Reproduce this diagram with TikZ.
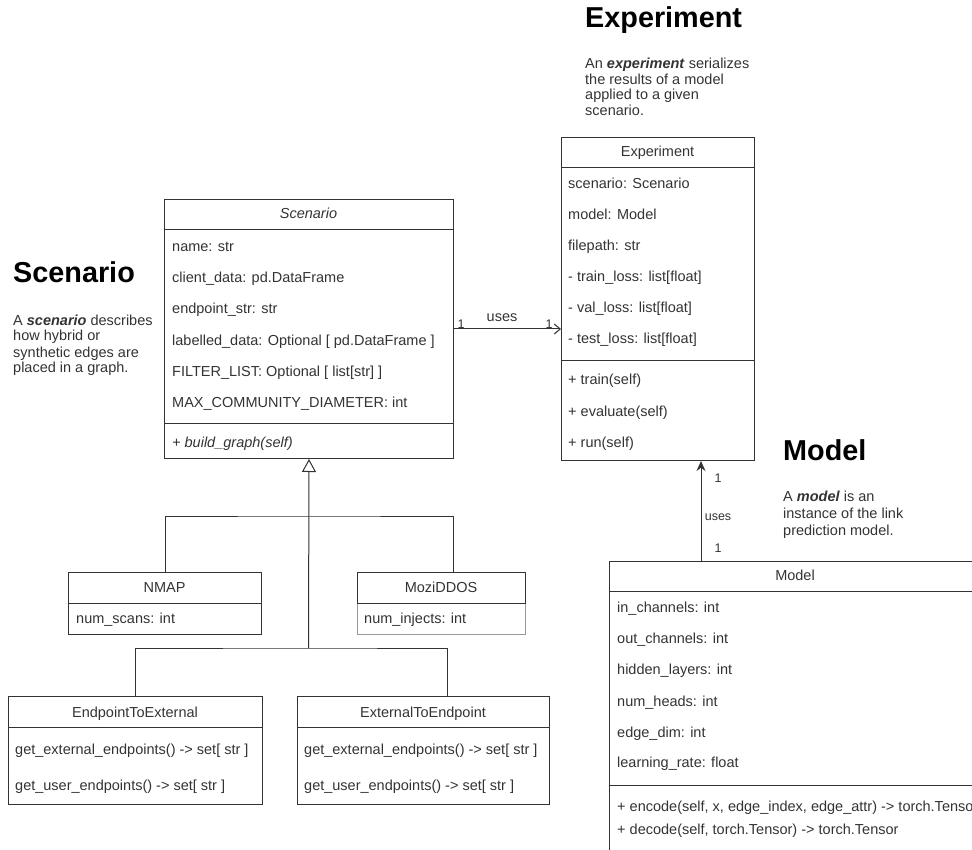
\documentclass[tikz,border=0pt]{standalone}
\usepackage{fontspec}
\setmainfont{Liberation Sans}
\usepackage{xcolor}
\usepackage{tikz}
\usetikzlibrary{arrows.meta}

\begin{document}
\begin{tikzpicture}[x=1pt, y=-1pt,
    font=\fontsize{14.5}{16}\selectfont,
    every node/.style={text=black!80},
    classbox/.style={draw=black!80, line width=1pt, anchor=north west, inner sep=0pt},
    row/.style={anchor=west, inner sep=0pt, text height=10pt, text depth=2pt},
    title/.style={inner sep=0pt, text height=10pt, text depth=2pt},
    heading/.style={anchor=west, inner sep=0pt, text height=20pt, text depth=0pt,
        font=\fontsize{28.8}{32}\selectfont\bfseries, text=black},
    wire/.style={draw=black!80, line width=1pt},
    uses/.style={wire, -{Straight Barb[length=6pt,width=10pt]}},
    usesup/.style={wire, -{Stealth[length=10pt,width=9pt]}},
    inherit/.style={wire, -{Triangle[open,length=13pt,width=14pt,fill=white]}},
    mult/.style={inner sep=0pt, font=\fontsize{12.5}{14}\selectfont}]
    \useasboundingbox (0,0) rectangle (972,850);
    \clip (0,0) rectangle (972,850);

    \node[heading] (scenhead) at (13,273) {Scenario};
    \foreach \y/\t [count=\k] in {322/{A \textbf{\textit{scenario}} describes}, 337/{how hybrid or}, 353/{synthetic edges are}, 369/{placed in a graph.}}
        \node[row] (scentext\k) at (13,\y) {\t};

    \node[classbox, minimum width=289pt, minimum height=259pt] (scen) at (164,199) {};
    \draw[wire] (scen.north west) ++(0,31) -- ++(289,0);
    \draw[wire] (scen.north west) ++(0,224) -- ++(289,0);
    \node[title, font=\fontsize{14.5}{16}\selectfont\itshape] (scenname) at (308.5,215) {Scenario};
    \foreach \y/\t [count=\k] in {248/{name: str}, 279/{client\_data: pd.DataFrame}, 310/{endpoint\_str: str}, 341/{labelled\_data: Optional [ pd.DataFrame ]}, 372/{FILTER\_LIST: Optional [ list[str] ]}, 403/{MAX\_COMMUNITY\_DIAMETER: int}}
        \node[row] (scenattr\k) at (172,\y) {\t};
    \node[row, font=\fontsize{14.5}{16}\selectfont\itshape] (scenop) at (172,443) {+ build\_graph(self)};

    \node[heading] (exphead) at (585,18) {Experiment};
    \foreach \y/\t [count=\k] in {65/{An \textbf{\textit{experiment}} serializes}, 81/{the results of a model}, 96/{applied to a given}, 112/{scenario.}}
        \node[row] (exptext\k) at (585,\y) {\t};

    \node[classbox, minimum width=193pt, minimum height=323pt] (exp) at (561,137) {};
    \draw[wire] (exp.north west) ++(0,31) -- ++(193,0);
    \draw[wire] (exp.north west) ++(0,223) -- ++(193,0);
    \node[title] (expname) at (657.5,153) {Experiment};
    \foreach \y/\t [count=\k] in {185/{scenario: Scenario}, 216/{model: Model}, 247/{filepath: str}, 278/{- train\_loss: list[float]}, 309/{- val\_loss: list[float]}, 340/{- test\_loss: list[float]}, 380/{+ train(self)}, 412/{+ evaluate(self)}, 443/{+ run(self)}}
        \node[row] (expattr\k) at (568,\y) {\t};

    \node[heading] (modelhead) at (783,450) {Model};
    \foreach \y/\t [count=\k] in {497/{A \textbf{\textit{model}} is an}, 514/{instance of the link}, 531/{prediction model.}}
        \node[row] (modeltext\k) at (783,\y) {\t};

    \node[classbox, minimum width=372pt, minimum height=300pt] (model) at (609,561) {};
    \draw[wire] (model.north west) ++(0,30) -- ++(372,0);
    \draw[wire] (model.north west) ++(0,224) -- ++(372,0);
    \node[title] (modelname) at (795,576) {Model};
    \foreach \y/\t [count=\k] in {608/{in\_channels: int}, 639/{out\_channels: int}, 670/{hidden\_layers: int}, 702/{num\_heads: int}, 733/{edge\_dim: int}, 763/{learning\_rate: float}, 807/{+ encode(self, x, edge\_index, edge\_attr) -> torch.Tensor}, 830/{+ decode(self, torch.Tensor) -> torch.Tensor}}
        \node[row] (modelattr\k) at (617,\y) {\t};

    \node[classbox, minimum width=193pt, minimum height=62pt] (nmap) at (68,572) {};
    \draw[wire] (nmap.north west) ++(0,31) -- ++(193,0);
    \node[title] (nmapname) at (164.5,588) {NMAP};
    \node[row] (nmapattr) at (76,619) {num\_scans: int};

    \node[classbox, draw=black!40, minimum width=168pt, minimum height=62pt] (mozi) at (357,572) {};
    \draw[wire] (mozi.north west) rectangle ++(168,31);
    \node[title] (moziname) at (441,588) {MoziDDOS};
    \node[row] (moziattr) at (364,619) {num\_injects: int};

    \node[classbox, minimum width=254pt, minimum height=108pt] (e2x) at (8,696) {};
    \draw[wire] (e2x.north west) ++(0,31) -- ++(254,0);
    \node[title] (e2xname) at (135,713) {EndpointToExternal};
    \node[row] (e2xop1) at (15,750) {get\_external\_endpoints() -> set[ str ]};
    \node[row] (e2xop2) at (15,786) {get\_user\_endpoints() -> set[ str ]};

    \node[classbox, minimum width=252pt, minimum height=108pt] (x2e) at (297,696) {};
    \draw[wire] (x2e.north west) ++(0,31) -- ++(252,0);
    \node[title] (x2ename) at (423,713) {ExternalToEndpoint};
    \node[row] (x2eop1) at (304,750) {get\_external\_endpoints() -> set[ str ]};
    \node[row] (x2eop2) at (304,786) {get\_user\_endpoints() -> set[ str ]};

    \coordinate (joinA) at (308.5,516);
    \coordinate (joinB) at (308.5,648);
    \draw[inherit] (joinB) -- (scen.south);
    \draw[wire] (nmap.north) |- (joinA) -| ([xshift=12pt]mozi.north);
    \draw[wire] (e2x.north) |- (joinB) -| ([xshift=24pt]x2e.north);

    \draw[uses] (scen.east) -- (scen.east -| exp.west);
    \node[mult] (mscen) at (461,324) {1};
    \node[inner sep=0pt] (usesh) at (502,318) {uses};
    \node[mult] (mexp) at (549,324) {1};

    \coordinate (upx) at (701,0);
    \draw[usesup] (upx |- model.north) -- (upx |- exp.south);
    \node[mult] (mexpup) at (718,478) {1};
    \node[mult] (usesv) at (718,517) {uses};
    \node[mult] (mmodel) at (718,548) {1};
\end{tikzpicture}
\end{document}
